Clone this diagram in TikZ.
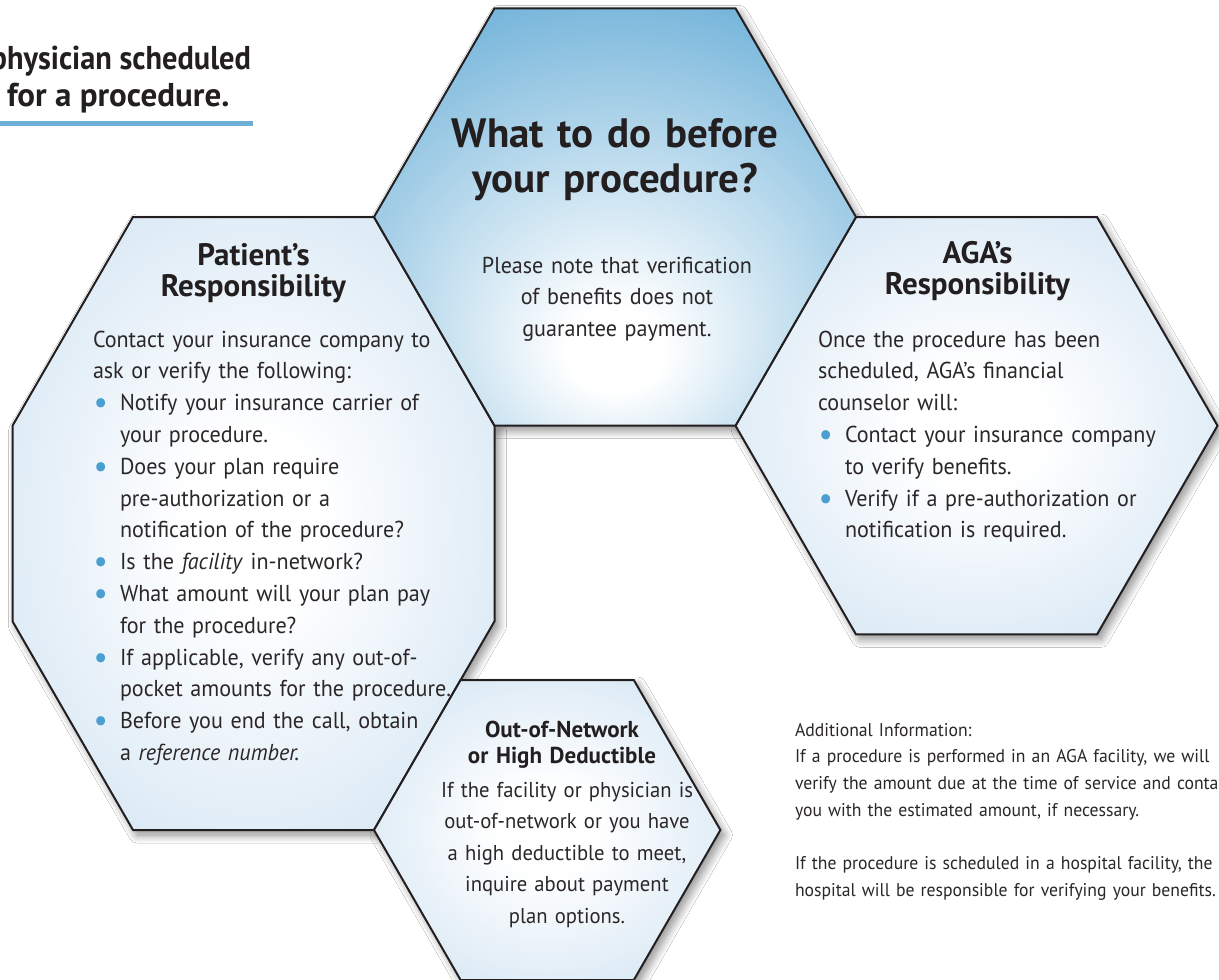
\documentclass[tikz,border=0pt]{standalone}
\usepackage{fontspec}
\setmainfont{PT Sans}[UprightFeatures={FakeStretch=0.96}, ItalicFeatures={FakeStretch=0.96}]
\usetikzlibrary{shadows.blur}

\definecolor{deepblue}{HTML}{5DA8D4}
\definecolor{paleblue}{HTML}{BAD6EC}
\definecolor{ruleblue}{HTML}{6BAED6}
\definecolor{dotblue}{HTML}{4A9FD0}
\definecolor{ink}{HTML}{231F20}
\definecolor{textgrey}{HTML}{2B2728}

% glow fills: white centre fading to blue at the rim
\pgfdeclareradialshading{deepglow}{\pgfpoint{0bp}{-17bp}}{color(0bp)=(white); color(5bp)=(white); color(42bp)=(deepblue); color(80bp)=(deepblue)}
\pgfdeclareradialshading{paleglow}{\pgfpoint{0bp}{0bp}}{color(0bp)=(white); color(7bp)=(white); color(48bp)=(paleblue); color(80bp)=(paleblue)}

% list helpers: blue bullet and hanging indent for wrapped lines
\newcommand\bul{\makebox[27pt][l]{\hspace{0.5pt}\raisebox{-3.2pt}{\fontsize{33pt}{0pt}\selectfont\textcolor{dotblue}{•}}}}
\newcommand\ind{\hspace*{27pt}}

\tikzset{
  hexline/.style={draw=ink, line width=2pt, line join=miter},
  softshadow/.style={blur shadow={shadow xshift=4pt, shadow yshift=-5pt, shadow blur radius=8pt, shadow blur steps=12, shadow opacity=45}},
  body/.style={font=\fontsize{23pt}{31.8pt}\selectfont, text=textgrey, inner sep=0pt, outer sep=0pt},
  headtext/.style={font=\bfseries\fontsize{31pt}{31.8pt}\selectfont, text=ink, inner sep=0pt, outer sep=0pt},
  titletext/.style={font=\bfseries\fontsize{41pt}{45pt}\selectfont, text=ink, inner sep=0pt, outer sep=0pt},
  leadtext/.style={font=\bfseries\fontsize{33pt}{37pt}\selectfont, text=ink, inner sep=0pt, outer sep=0pt},
  smalltext/.style={font=\fontsize{18.4pt}{26.7pt}\selectfont, text=textgrey, inner sep=0pt, outer sep=0pt},
}

\begin{document}
\begin{tikzpicture}[x=1pt, y=-1pt]
\useasboundingbox (0,0) rectangle (1219,980);
\clip (0,0) rectangle (1219,980);
\fill[white] (0,0) rectangle (1219,980);

% centre hexagon
\coordinate (c1) at (494.5,8.3);   \coordinate (c2) at (735.5,8.3);
\coordinate (c3) at (856,217);     \coordinate (c4) at (735.5,425.7);
\coordinate (c5) at (494.5,425.7); \coordinate (c6) at (374,217);
% AGA hexagon
\coordinate (a1) at (856,217);     \coordinate (a2) at (1097,217);
\coordinate (a3) at (1217.5,425.7);\coordinate (a4) at (1097,634.4);
\coordinate (a5) at (856,634.4);   \coordinate (a6) at (735.5,425.7);
% patient octagon (stretched hexagon)
\coordinate (p1) at (133,217);     \coordinate (p2) at (374,217);
\coordinate (p3) at (494.5,425.7); \coordinate (p4) at (494.5,621.3);
\coordinate (p5) at (374,830);     \coordinate (p6) at (133,830);
\coordinate (p7) at (12.5,621.3);  \coordinate (p8) at (12.5,425.7);
% out-of-network hexagon
\coordinate (o1) at (374,830);     \coordinate (o2) at (460.6,680);
\coordinate (o3) at (633.8,680);   \coordinate (o4) at (720.4,830);
\coordinate (o5) at (633.8,980);   \coordinate (o6) at (460.6,980);

% shadows first, so no shadow lies on a neighbouring cell
\path[softshadow] (p1)--(p2)--(p3)--(p4)--(p5)--(p6)--(p7)--(p8)--cycle;
\path[softshadow] (o1)--(o2)--(o3)--(o4)--(o5)--(o6)--cycle;
\path[softshadow] (a1)--(a2)--(a3)--(a4)--(a5)--(a6)--cycle;
\path[softshadow] (c1)--(c2)--(c3)--(c4)--(c5)--(c6)--cycle;

% cells
\path[hexline, shading=paleglow] (p1)--(p2)--(p3)--(p4)--(p5)--(p6)--(p7)--(p8)--cycle;
\path[hexline, shading=paleglow] (o1)--(o2)--(o3)--(o4)--(o5)--(o6)--cycle;
\path[hexline, shading=paleglow] (a1)--(a2)--(a3)--(a4)--(a5)--(a6)--cycle;
\path[hexline, shading=deepglow] (c1)--(c2)--(c3)--(c4)--(c5)--(c6)--cycle;

% lead-in heading with its rule
\node[leadtext, anchor=base east] (lead1) at (251,69) {\scalebox{0.92}[1]{physician scheduled}};
\node[leadtext, anchor=base west] (lead2) at (7,106) {for a procedure.};
\coordinate (rulestart) at (0,123.3);
\coordinate (ruleend) at (253,123.3);
\draw[ruleblue, line width=5.3pt] (rulestart) -- (ruleend);

% centre cell
\node[titletext, anchor=base, text width=420pt, align=center] (ctitle) at (615,147)
  {What to do before\\ your procedure?};
\node[body, anchor=base, text width=320pt, align=center] (cbody) at (617,273)
  {Please note that verification\\ of benefits does not\\ guarantee payment.};

% patient cell
\node[headtext, anchor=base, text width=300pt, align=center] (phead) at (253.5,265)
  {Patient's\\ Responsibility};
\node[body, anchor=base west, text width=420pt, align=left] (pbody) at (93,347)
  {Contact your insurance company to\\
   ask or verify the following:\\
   \bul Notify your insurance carrier of\\
   \ind your procedure.\\
   \bul Does your plan require\\
   \ind pre-authorization or a\\
   \ind notification of the procedure?\\
   \bul Is the \textit{facility} in-network?\\
   \bul What amount will your plan pay\\
   \ind for the procedure?\\
   \bul If applicable, verify any out-of-\\
   \ind pocket amounts for the procedure.\\
   \bul Before you end the call, obtain\\
   \ind a \textit{reference number.}};

% AGA cell
\node[headtext, anchor=base, text width=300pt, align=center] (ahead) at (977.5,263)
  {AGA's\\ Responsibility};
\node[body, anchor=base west, text width=400pt, align=left] (abody) at (818,347)
  {Once the procedure has been\\
   scheduled, AGA's financial\\
   counselor will:\\
   \bul Contact your insurance company\\
   \ind to verify benefits.\\
   \bul Verify if a pre-authorization or\\
   \ind notification is required.};

% out-of-network cell
\node[headtext, font=\bfseries\fontsize{23pt}{26.5pt}\selectfont, anchor=base, text width=300pt, align=center] (ohead) at (562,737)
  {Out-of-Network\\ or High Deductible};
\node[body, font=\fontsize{21.5pt}{31.6pt}\selectfont, anchor=base, text width=320pt, align=center] (obody) at (567,797)
  {If the facility or physician is\\
   out-of-network or you have\\
   a high deductible to meet,\\
   inquire about payment\\
   plan options.};

% side note
\node[smalltext, anchor=base west, text width=520pt, align=left] (note) at (795,736)
  {Additional Information:\\
   If a procedure is performed in an AGA facility, we will\\
   verify the amount due at the time of service and contact\\
   you with the estimated amount, if necessary.\\[26.7pt]
   If the procedure is scheduled in a hospital facility, the\\
   hospital will be responsible for verifying your benefits.};
\end{tikzpicture}
\end{document}
